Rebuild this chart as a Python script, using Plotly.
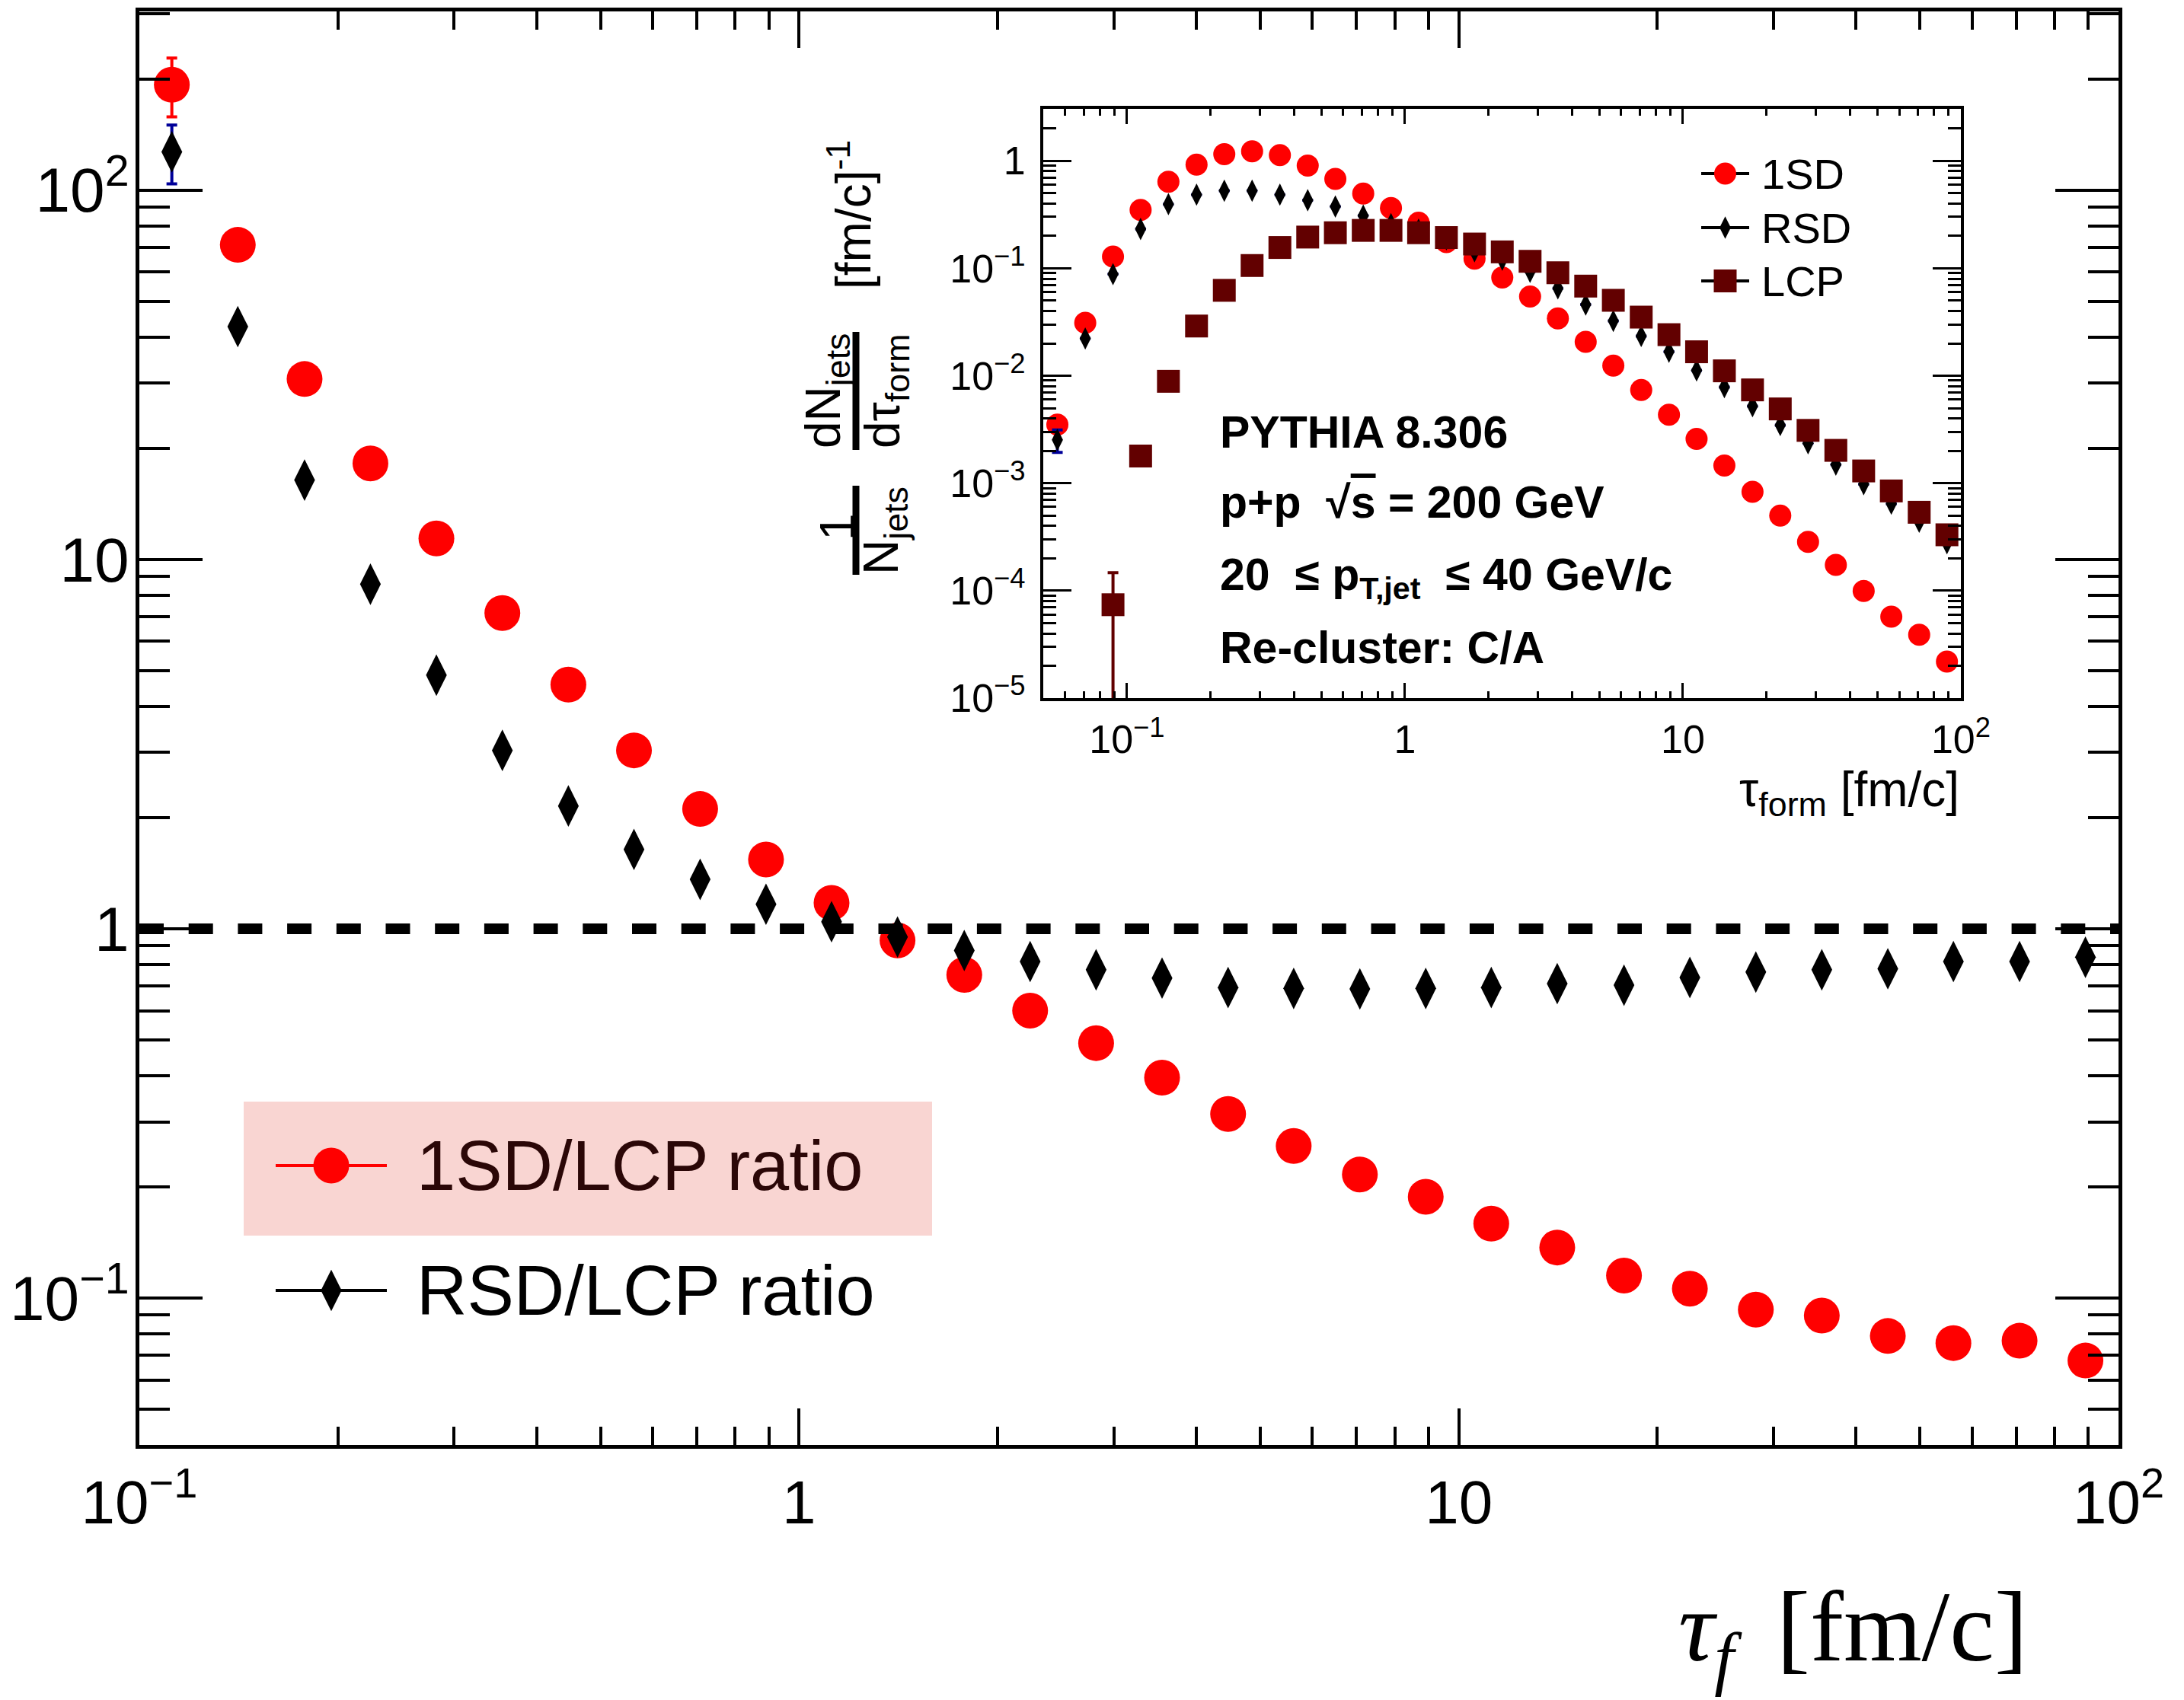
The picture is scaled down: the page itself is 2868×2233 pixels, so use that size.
import plotly.graph_objects as go

W, H = 2868, 2233
SANS = "Liberation Sans, Arial, Helvetica, sans-serif"
SERIF = "Liberation Serif, Times New Roman, serif"

# ---------------- ratio panel (bin centres in fm/c) ----------------
tau_ratio = [0.112, 0.141, 0.178, 0.224, 0.282, 0.355, 0.447, 0.562, 0.708, 0.891,
             1.12, 1.41, 1.78, 2.24, 2.82, 3.55, 4.47, 5.62, 7.08, 8.91,
             11.2, 14.1, 17.8, 22.4, 28.2, 35.5, 44.7, 56.2, 70.8, 89.1]
ratio_1sd = [193, 71.1, 30.8, 18.2, 11.4, 7.16, 4.58, 3.04, 2.11, 1.54,
             1.175, 0.93, 0.75, 0.60, 0.49, 0.395, 0.315, 0.258, 0.216, 0.188,
             0.159, 0.137, 0.115, 0.106, 0.093, 0.0896, 0.0789, 0.0755, 0.0766, 0.0677]
err_1sd = [35, 0, 0, 0, 0, 0, 0, 0, 0, 0, 0, 0, 0, 0, 0,
           0, 0, 0, 0, 0, 0, 0, 0, 0, 0, 0, 0, 0, 0, 0]
ratio_rsd = [127, 42.7, 16.4, 8.57, 4.86, 3.04, 2.15, 1.64, 1.36, 1.165,
             1.044, 0.95, 0.873, 0.815, 0.774, 0.735, 0.693, 0.689, 0.687, 0.689,
             0.693, 0.710, 0.703, 0.738, 0.763, 0.774, 0.779, 0.815, 0.815, 0.837]
err_rsd = [23, 0, 0, 0, 0, 0, 0, 0, 0, 0, 0, 0, 0, 0, 0,
           0, 0, 0, 0, 0, 0, 0, 0, 0, 0, 0, 0, 0, 0, 0]

# ---------------- inset: normalised distributions ----------------
tau_dist = [0.0562, 0.0708, 0.0891, 0.112, 0.141, 0.178, 0.224, 0.282, 0.355, 0.447,
            0.562, 0.708, 0.891, 1.12, 1.41, 1.78, 2.24, 2.82, 3.55, 4.47,
            5.62, 7.08, 8.91, 11.2, 14.1, 17.8, 22.4, 28.2, 35.5, 44.7,
            56.2, 70.8, 89.1]
dist_1sd = [3.5e-3, 0.0311, 0.1285, 0.349, 0.638, 0.922, 1.153, 1.226, 1.13, 0.903,
            0.679, 0.495, 0.364, 0.265, 0.175, 0.123, 0.082, 0.0545, 0.0341, 0.0207,
            0.0124, 7.38e-3, 4.34e-3, 2.58e-3, 1.46e-3, 8.3e-4, 4.99e-4, 2.84e-4, 1.74e-4, 9.93e-5,
            5.73e-5, 3.89e-5, 2.19e-5]
dist_rsd = [2.53e-3, 0.0222, 0.0881, 0.232, 0.395, 0.484, 0.526, 0.526, 0.484, 0.429,
            0.375, 0.309, 0.257, 0.228, 0.186, 0.144, 0.120, 0.0927, 0.0649, 0.0459,
            0.0324, 0.0234, 0.0167, 0.0112, 7.84e-3, 5.21e-3, 3.47e-3, 2.35e-3, 1.49e-3, 9.78e-4,
            6.44e-4, 4.37e-4, 2.76e-4]
err_dist_rsd = [6e-4, 0, 0, 0, 0, 0, 0, 0, 0, 0, 0, 0, 0, 0, 0, 0, 0,
                0, 0, 0, 0, 0, 0, 0, 0, 0, 0, 0, 0, 0, 0, 0, 0]
dist_lcp = [None, None, 7.4e-5, 1.79e-3, 8.87e-3, 0.029, 0.0623, 0.106, 0.156, 0.195,
            0.214, 0.225, 0.225, 0.214, 0.193, 0.168, 0.142, 0.116, 0.0908, 0.0682,
            0.0503, 0.0351, 0.0241, 0.0167, 0.0111, 7.38e-3, 4.91e-3, 3.10e-3, 2.02e-3, 1.30e-3,
            8.47e-4, 5.36e-4, 3.31e-4]
err_dist_lcp = [0, 0, 7.3e-5, 0, 0, 0, 0, 0, 0, 0, 0, 0, 0, 0, 0, 0, 0,
                0, 0, 0, 0, 0, 0, 0, 0, 0, 0, 0, 0, 0, 0, 0, 0]

# ---------------- axis tick labels ----------------
MINUS = "\u2212"
ratio_ticks = [0.1, 1, 10, 100]
ratio_ticktext = ["10<sup>" + MINUS + "1</sup>", "1", "10", "10<sup>2</sup>"]
dist_x_ticks = [0.1, 1, 10, 100]
dist_x_ticktext = ["10<sup>" + MINUS + "1</sup>", "1", "10", "10<sup>2</sup>"]
dist_y_ticks = [1e-5, 1e-4, 1e-3, 1e-2, 1e-1, 1]
dist_y_ticktext = ["10<sup>" + MINUS + "5</sup>", "10<sup>" + MINUS + "4</sup>",
                   "10<sup>" + MINUS + "3</sup>", "10<sup>" + MINUS + "2</sup>",
                   "10<sup>" + MINUS + "1</sup>", "1"]

RED = "#ff0000"
LCP_COLOR = "#620000"
BLUE = "#000099"


def px(X):
    return X / W


def py(Y):
    return 1 - Y / H


def decade_minor(lo_exp, hi_exp):
    """Values 2..9 x 10^k for every decade in [lo_exp, hi_exp)."""
    return [m * 10.0 ** k for k in range(lo_exp, hi_exp) for m in range(2, 10)]


fig = go.Figure()

# ---- main ratio panel ----
fig.add_trace(go.Scatter(
    x=tau_ratio, y=ratio_1sd, mode="markers", xaxis="x", yaxis="y",
    marker=dict(symbol="circle", size=47, color=RED),
    error_y=dict(type="data", array=err_1sd, color=RED, thickness=4, width=7),
    showlegend=False, cliponaxis=False))
fig.add_trace(go.Scatter(
    x=[0.1, 100], y=[1, 1], mode="lines", xaxis="x", yaxis="y",
    line=dict(color="black", width=14, dash="32px,32.7px"),
    showlegend=False, hoverinfo="skip"))
fig.add_trace(go.Scatter(
    x=tau_ratio, y=ratio_rsd, mode="markers", xaxis="x", yaxis="y",
    marker=dict(symbol="diamond-tall", size=39, color="black"),
    error_y=dict(type="data", array=err_rsd, color=BLUE, thickness=4, width=7),
    showlegend=False, cliponaxis=False))

# ---- inset distributions ----
fig.add_trace(go.Scatter(
    x=tau_dist, y=dist_1sd, mode="markers", xaxis="x2", yaxis="y2",
    marker=dict(symbol="circle", size=29, color=RED), showlegend=False))
fig.add_trace(go.Scatter(
    x=tau_dist, y=dist_rsd, mode="markers", xaxis="x2", yaxis="y2",
    marker=dict(symbol="diamond-tall", size=21, color="black"),
    error_y=dict(type="data", array=err_dist_rsd, color=BLUE, thickness=4, width=7),
    showlegend=False))
fig.add_trace(go.Scatter(
    x=tau_dist, y=dist_lcp, mode="markers", xaxis="x2", yaxis="y2",
    marker=dict(symbol="square", size=30, color=LCP_COLOR),
    error_y=dict(type="data", array=err_dist_lcp, color=LCP_COLOR, thickness=4, width=7),
    showlegend=False))

# ---- legend keys on a pixel-space overlay ----
def key(x0, x1, y, line_color, symbol, size, color):
    fig.add_trace(go.Scatter(x=[x0, x1], y=[y, y], mode="lines", xaxis="x3", yaxis="y3",
                             line=dict(color=line_color, width=4), showlegend=False,
                             hoverinfo="skip"))
    fig.add_trace(go.Scatter(x=[(x0 + x1) / 2], y=[y], mode="markers", xaxis="x3", yaxis="y3",
                             marker=dict(symbol=symbol, size=size, color=color),
                             showlegend=False, hoverinfo="skip"))


key(362, 508, 1531, RED, "circle", 47, RED)
key(362, 508, 1695, "black", "diamond-tall", 39, "black")
key(2234, 2297, 228, "black", "circle", 29, RED)
key(2234, 2297, 299, "black", "diamond-tall", 21, "black")
key(2234, 2297, 369, "black", "square", 30, LCP_COLOR)


def log_axis(domain, rng, anchor, lw, tlen, mlen, tw, fsize, standoff, majors, labels, minors):
    return dict(type="log", domain=domain, range=rng, anchor=anchor, automargin=False,
                showline=True, linecolor="black", linewidth=lw, mirror="ticks",
                ticks="inside", tickcolor="black", ticklen=tlen, tickwidth=tw,
                tickmode="array", tickvals=majors, ticktext=labels,
                minor=dict(ticks="inside", ticklen=mlen, tickwidth=tw, tickcolor="black",
                           tickmode="array", tickvals=minors, showgrid=False),
                showgrid=False, zeroline=False, fixedrange=True,
                tickfont=dict(size=fsize, family=SANS, color="black"),
                ticklabelstandoff=standoff)


fig.update_layout(
    width=W, height=H,
    margin=dict(l=0, r=0, t=0, b=0, autoexpand=False),
    paper_bgcolor="white", plot_bgcolor="rgba(0,0,0,0)",
    font=dict(family=SANS, color="black"),
    showlegend=False,
    xaxis=log_axis([px(183), px(2782)], [-1, 2], "y", 5, 48, 24, 4, 80, 2,
                   ratio_ticks, ratio_ticktext, decade_minor(-1, 2)),
    yaxis=log_axis([py(1898), py(15)], [-1.398, 2.484], "x", 5, 83, 40, 4, 82, -8,
                   ratio_ticks, ratio_ticktext, decade_minor(-2, 3)),
    xaxis2=log_axis([px(1370), px(2575)], [-1.301, 2], "y2", 4, 20, 9, 3, 52, 6,
                    dist_x_ticks, dist_x_ticktext, decade_minor(-2, 2)),
    yaxis2=log_axis([py(917), py(143)], [-5, 0.483], "x2", 4, 37, 17, 3, 52, 9,
                    dist_y_ticks, dist_y_ticktext, decade_minor(-5, 1)),
    xaxis3=dict(domain=[0, 1], range=[0, W], anchor="y3", visible=False,
                fixedrange=True, automargin=False),
    yaxis3=dict(domain=[0, 1], range=[H, 0], anchor="x3", visible=False,
                fixedrange=True, automargin=False),
)

shapes = [
    # shaded key box behind the 1SD/LCP entry
    dict(type="rect", xref="paper", yref="paper", x0=px(320), x1=px(1224),
         y0=py(1623), y1=py(1447), fillcolor="#F9D5D2", line=dict(width=0), layer="below"),
    # fraction bars of the inset y-axis title
    dict(type="line", xref="paper", yref="paper", x0=px(1124), x1=px(1124),
         y0=py(591), y1=py(436), line=dict(color="black", width=9)),
    dict(type="line", xref="paper", yref="paper", x0=px(1124), x1=px(1124),
         y0=py(755), y1=py(638), line=dict(color="black", width=9)),
]
fig.update_layout(shapes=shapes)


def ann(text, X, Y, size, xanchor="left", yanchor="middle", color="black",
        family=SANS, angle=0, weight="normal"):
    return dict(text=text, x=px(X), y=py(Y), xref="paper", yref="paper",
                xanchor=xanchor, yanchor=yanchor, showarrow=False, textangle=angle,
                font=dict(size=size, color=color, family=family, weight=weight))


NB = "\u00a0"
annotations = [
    # main legend
    ann("1SD/LCP ratio", 545, 1531, 92, color="#2b0707"),
    ann("RSD/LCP ratio", 545, 1695, 92),
    # main x title
    ann("<i>τ</i><sub><i>f</i>" + NB + "</sub> [fm/c]", 2665, 2146, 132,
        xanchor="right", family=SERIF),
    # inset legend
    ann("1SD", 2311, 228, 56),
    ann("RSD", 2311, 299, 56),
    ann("LCP", 2311, 369, 56),
    # inset caption
    ann("PYTHIA 8.306", 1600, 568, 59, weight="bold"),
    ann("p+p" + NB + NB + "√<span style='text-decoration:overline'>s</span> = 200 GeV",
        1600, 660, 59, weight="bold"),
    ann("20" + NB + NB + "≤ p<sub>T,jet</sub>" + NB + NB + "≤ 40 GeV/c", 1600, 759, 59, weight="bold"),
    ann("Re-cluster: C/A", 1600, 851, 59, weight="bold"),
    # inset x title
    ann("τ<sub>form</sub> [fm/c]", 2575, 1041, 64, xanchor="right"),
    # inset y title, built as stacked fractions
    ann("1", 1100, 692, 64, xanchor="center", angle=-90),
    ann("N<sub>jets</sub>", 1161, 697, 64, xanchor="center", angle=-90),
    ann("dN<sub>jets</sub>", 1085, 513, 64, xanchor="center", angle=-90),
    ann("dτ<sub>form</sub>", 1163, 514, 64, xanchor="center", angle=-90),
    ann("[fm/c]<sup>-1</sup>", 1116, 282, 64, xanchor="center", angle=-90),
]
fig.update_layout(annotations=annotations)

fig.write_html("out.html")
